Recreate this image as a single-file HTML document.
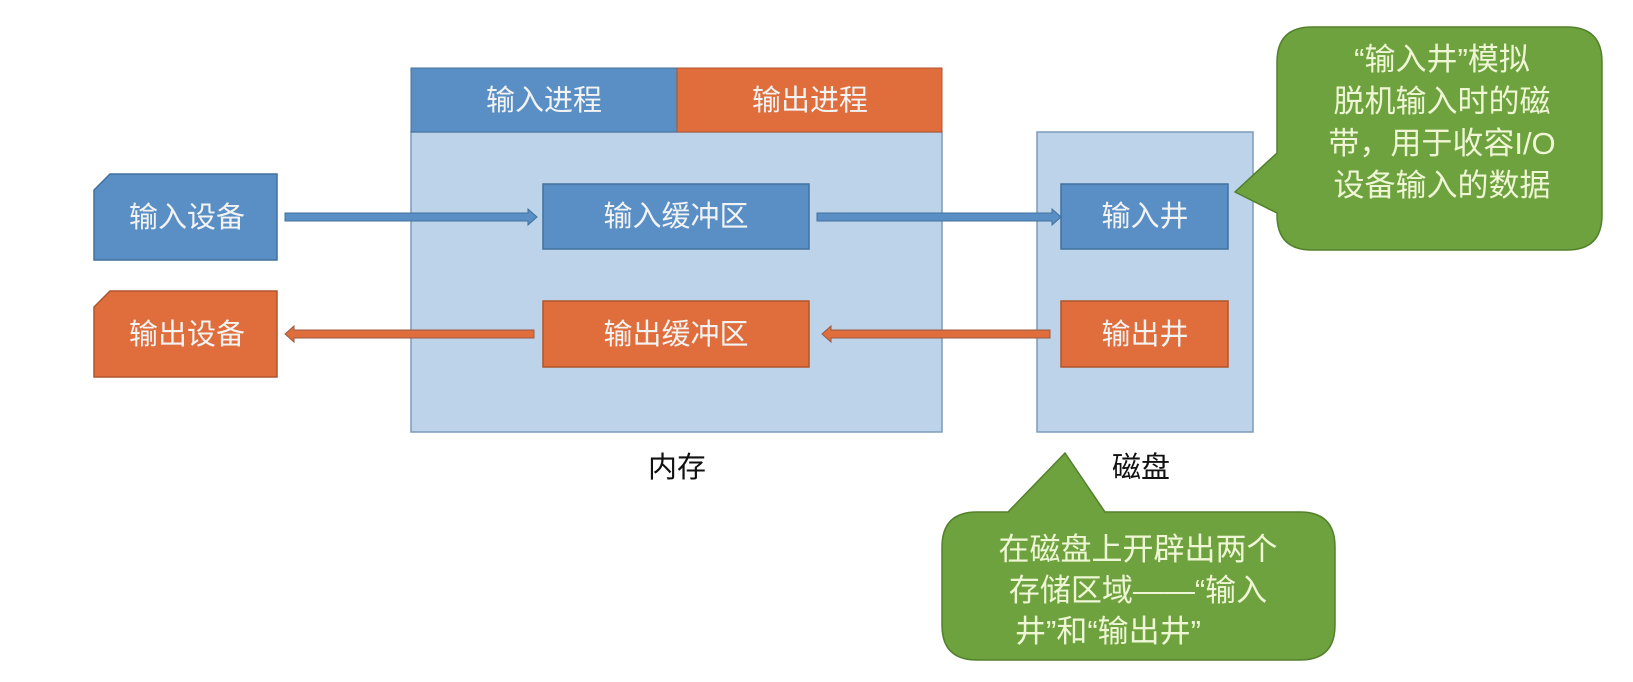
<!DOCTYPE html>
<html><head><meta charset="utf-8"><style>
html,body{margin:0;padding:0;background:#fff;}
svg text{font-family:"Liberation Sans","Noto Sans CJK SC",sans-serif;}
</style></head><body>
<svg width="1633" height="677" viewBox="0 0 1633 677" xmlns="http://www.w3.org/2000/svg">
<rect width="1633" height="677" fill="#fff"/>
<!-- memory -->
<rect x="411" y="132" width="531" height="300" fill="#bdd3ea" stroke="#7f9bb8" stroke-width="1.5"/>
<rect x="411" y="68" width="266" height="64" fill="#5a8fc6" stroke="#41719c" stroke-width="1"/>
<rect x="677" y="68" width="265" height="64" fill="#df6e3c" stroke="#b0552b" stroke-width="1"/>
<!-- disk -->
<rect x="1037" y="132" width="216" height="300" fill="#bdd3ea" stroke="#7f9bb8" stroke-width="1.5"/>
<!-- devices -->
<polygon points="110,174 277,174 277,260 94,260 94,190" fill="#5a8fc6" stroke="#41719c" stroke-width="1.5"/>
<polygon points="110,291 277,291 277,377 94,377 94,307" fill="#df6e3c" stroke="#b0552b" stroke-width="1.5"/>
<!-- buffers -->
<rect x="543" y="184" width="266" height="65" fill="#5a8fc6" stroke="#41719c" stroke-width="1.5"/>
<rect x="543" y="301" width="266" height="66" fill="#df6e3c" stroke="#b0552b" stroke-width="1.5"/>
<rect x="1061" y="184" width="167" height="65" fill="#5a8fc6" stroke="#41719c" stroke-width="1.5"/>
<rect x="1061" y="301" width="167" height="66" fill="#df6e3c" stroke="#b0552b" stroke-width="1.5"/>
<!-- arrows -->
<g stroke-width="1">
<polygon points="285,213 528,213 528,209 537,217 528,225 528,221 285,221" fill="#5a8fc6" stroke="#41719c"/>
<polygon points="817,213 1052,213 1052,209 1061,217 1052,225 1052,221 817,221" fill="#5a8fc6" stroke="#41719c"/>
<polygon points="1050,330 831,330 831,326 822,334 831,342 831,338 1050,338" fill="#df6e3c" stroke="#9a5a45"/>
<polygon points="534,330 294,330 294,326 285,334 294,342 294,338 534,338" fill="#df6e3c" stroke="#9a5a45"/>
</g>
<!-- labels -->
<g fill="#f3f3f3" font-size="29" text-anchor="middle">
<text x="544" y="110">输入进程</text>
<text x="810" y="110">输出进程</text>
<text x="187" y="227">输入设备</text>
<text x="187" y="344">输出设备</text>
<text x="676" y="226">输入缓冲区</text>
<text x="676" y="344">输出缓冲区</text>
<text x="1145" y="226">输入井</text>
<text x="1145" y="344">输出井</text>
</g>
<g fill="#111" font-size="29" text-anchor="middle">
<text x="677" y="477">内存</text>
<text x="1141" y="477">磁盘</text>
</g>
<!-- callout top -->
<path d="M1312,27 H1567 Q1602,27 1602,62 V215 Q1602,250 1567,250 H1312 Q1277,250 1277,215 V213 L1235,192 L1277,153 V62 Q1277,27 1312,27 Z" fill="#6ea23e" stroke="#52802b" stroke-width="1.5"/>
<g fill="#eef6d6" font-size="31" text-anchor="middle">
<text x="1442" y="70">“输入井”模拟</text>
<text x="1442" y="112">脱机输入时的磁</text>
<text x="1442" y="154">带，用于收容I/O</text>
<text x="1442" y="196">设备输入的数据</text>
</g>
<!-- callout bottom -->
<path d="M977,512 H1008 L1065,453 L1105,512 H1300 Q1335,512 1335,547 V625 Q1335,660 1300,660 H977 Q942,660 942,625 V547 Q942,512 977,512 Z" fill="#6ea23e" stroke="#52802b" stroke-width="1.5"/>
<g fill="#eef6d6" font-size="31" text-anchor="middle">
<text x="1138" y="560">在磁盘上开辟出两个</text>
<text x="1138" y="601">存储区域——“输入</text>
<text x="1108" y="642">井”和“输出井”</text>
</g>
</svg>
</body></html>
